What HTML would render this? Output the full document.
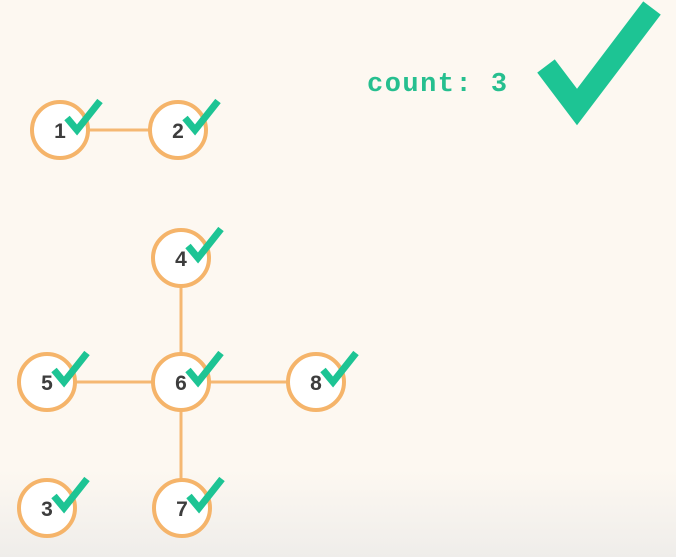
<html><body style="margin:0;width:676px;height:557px;overflow:hidden;background:linear-gradient(#fdf8f1 0,#fdf8f1 470px,#efedea 557px);font-family:'Liberation Sans',sans-serif">
<svg width="676" height="557" xmlns="http://www.w3.org/2000/svg">
<defs>
<g id="c"><path d="M7,-12 L17,0 L40,-29" fill="none" stroke="#1dc494" stroke-width="7" stroke-linecap="butt"/></g>
</defs>
<g stroke="#f5b873" stroke-width="3">
<line x1="60" y1="130" x2="178" y2="130"/>
<line x1="181" y1="258" x2="181" y2="508"/>
<line x1="47" y1="382" x2="316" y2="382"/>
</g>
<g fill="#fff" stroke="#f5b46a" stroke-width="4">
<circle cx="60" cy="130" r="28"/><circle cx="178" cy="130" r="28"/>
<circle cx="181" cy="258" r="28"/><circle cx="47" cy="382" r="28"/>
<circle cx="181" cy="382" r="28"/><circle cx="316" cy="382" r="28"/>
<circle cx="47" cy="508" r="28"/><circle cx="182" cy="508" r="28"/>
</g>
<g font-weight="bold" font-size="21" fill="#3d3d3d" text-anchor="middle">
<text x="60" y="138">1</text><text x="178" y="138">2</text>
<text x="181" y="266">4</text><text x="47" y="390">5</text>
<text x="181" y="390">6</text><text x="316" y="390">8</text>
<text x="47" y="516">3</text><text x="182" y="516">7</text>
</g>
<use href="#c" x="60" y="130"/><use href="#c" x="178" y="130"/>
<use href="#c" x="181" y="258"/><use href="#c" x="47" y="382"/>
<use href="#c" x="181" y="382"/><use href="#c" x="316" y="382"/>
<use href="#c" x="47" y="508"/><use href="#c" x="182" y="508"/>
<text x="367" y="91" font-family="'Liberation Mono',monospace" font-weight="bold" font-size="27" letter-spacing="1.5" fill="#26bf8f">count: 3</text>
<path d="M546,66 L577,107 L652,8" fill="none" stroke="#1dc494" stroke-width="22"/>
</svg>
</body></html>
